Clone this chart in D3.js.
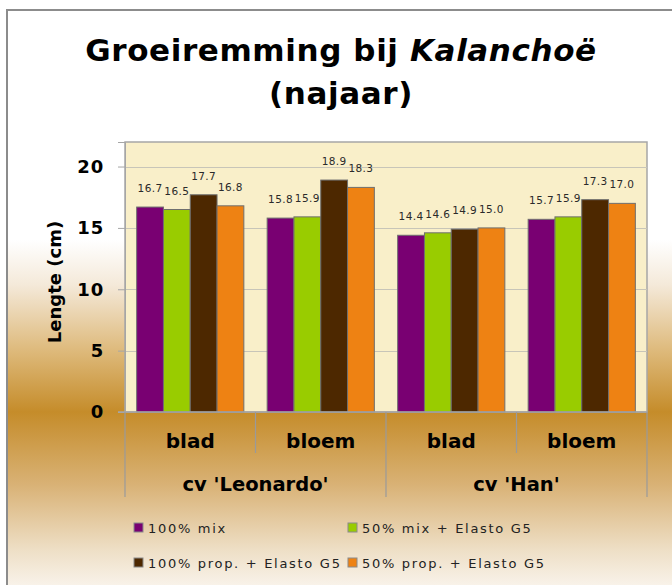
<!DOCTYPE html>
<html>
<head>
<meta charset="utf-8">
<script src="https://cdn.jsdelivr.net/npm/d3@7"></script>
<style>
  html, body { margin: 0; padding: 0; background: #ffffff; }
  svg { display: block; }
  text { font-family: "DejaVu Sans", Verdana, sans-serif; }
</style>
</head>
<body>
<script>
// ---- data ----
const cultivars = ["cv 'Leonardo'", "cv 'Han'"];
const organs = ["blad", "bloem"];
const seriesNames = ["100% mix", "50% mix + Elasto G5", "100% prop. + Elasto G5", "50% prop. + Elasto G5"];
const seriesColors = ["#790072", "#99CC00", "#4D2800", "#EE8213"];
// values per category (Leonardo blad, Leonardo bloem, Han blad, Han bloem)
const s100mix      = [16.7, 15.8, 14.4, 15.7];
const s50mixElasto = [16.5, 15.9, 14.6, 15.9];
const s100prop     = [17.7, 18.9, 14.9, 17.3];
const s50prop      = [16.8, 18.3, 15.0, 17.0];
const yTicks = [0, 5, 10, 15, 20];

const seriesValues = [s100mix, s50mixElasto, s100prop, s50prop];
const categories = [];
cultivars.forEach(c => organs.forEach(o => categories.push({cultivar: c, organ: o, key: c + "|" + o})));

const W = 672, H = 585;
const svg = d3.select("body").append("svg").attr("width", W).attr("height", H);

// background gradient
const defs = svg.append("defs");
const grad = defs.append("linearGradient").attr("id", "bg")
  .attr("gradientUnits", "userSpaceOnUse").attr("x1", 0).attr("y1", 0).attr("x2", 0).attr("y2", 600);
[[0, "#ffffff"], [240, "#ffffff"], [285, "#F4E9D9"], [350, "#DEBA7C"], [412, "#C58C2A"],
 [485, "#D9B276"], [550, "#EEDFC6"], [590, "#FAF5EE"]].forEach(([y, c]) => {
  grad.append("stop").attr("offset", y / 600).attr("stop-color", c);
});
svg.append("rect").attr("x", 7).attr("y", 10).attr("width", 720).attr("height", 640)
  .attr("fill", "url(#bg)").attr("stroke", "#8C8C8C").attr("stroke-width", 2);

// title
const title = svg.append("text").attr("x", 341).attr("y", 61).attr("text-anchor", "middle")
  .attr("font-size", 31).attr("font-weight", "bold").attr("letter-spacing", 0.6).attr("fill", "#000");
title.append("tspan").text("Groeiremming bij ");
title.append("tspan").attr("font-style", "italic").text("Kalanchoë");
svg.append("text").attr("x", 341).attr("y", 104).attr("text-anchor", "middle")
  .attr("font-size", 31).attr("font-weight", "bold").attr("letter-spacing", 0.6).attr("fill", "#000")
  .text("(najaar)");

// plot area
const plot = {left: 125, right: 647, top: 142, bottom: 412};
const y = d3.scaleLinear().domain([0, 22]).range([plot.bottom, plot.top]);
const x0 = d3.scaleBand().domain(categories.map(d => d.key)).range([plot.left, plot.right]).padding(0);
const x1 = d3.scaleBand().domain(d3.range(seriesNames.length)).range([0, x0.bandwidth()])
  .paddingInner(0).paddingOuter(0.435);

svg.append("rect").attr("x", plot.left).attr("y", plot.top)
  .attr("width", plot.right - plot.left).attr("height", plot.bottom - plot.top)
  .attr("fill", "#F9EFC9").attr("stroke", "#A6A6A6").attr("stroke-width", 1.5);

// gridlines
svg.append("g").selectAll("line").data(yTicks.filter(t => t > 0)).join("line")
  .attr("x1", plot.left).attr("x2", plot.right)
  .attr("y1", d => Math.round(y(d)) + 0.5).attr("y2", d => Math.round(y(d)) + 0.5)
  .attr("stroke", "#C8C5B8").attr("stroke-width", 1.2);

// y axis
const yAxis = d3.axisLeft(y).tickValues(yTicks).tickSize(7).tickPadding(14).tickFormat(d3.format("d"));
const yg = svg.append("g").attr("transform", `translate(${plot.left},0)`).call(yAxis);
yg.select(".domain").attr("stroke", "#A6A6A6");
yg.selectAll(".tick line").attr("stroke", "#A6A6A6");
yg.selectAll(".tick text").attr("font-size", 18).attr("font-weight", "bold")
  .attr("font-family", "DejaVu Sans").attr("fill", "#000").attr("letter-spacing", 0.8);

svg.append("text").attr("transform", "translate(61,282) rotate(-90)").attr("text-anchor", "middle")
  .attr("font-size", 18).attr("font-weight", "bold").attr("fill", "#000").text("Lengte (cm)");

// bars
const barG = svg.append("g");
categories.forEach((cat, ci) => {
  const g = barG.append("g").attr("transform", `translate(${x0(cat.key)},0)`);
  g.selectAll("rect").data(seriesValues.map((s, si) => ({si, v: s[ci]}))).join("rect")
    .attr("x", d => x1(d.si)).attr("width", x1.bandwidth())
    .attr("y", d => y(d.v)).attr("height", d => y(0) - y(d.v))
    .attr("fill", d => seriesColors[d.si]).attr("stroke", "#6F6F6F").attr("stroke-width", 1);
  g.selectAll("text").data(seriesValues.map((s, si) => ({si, v: s[ci]}))).join("text")
    .attr("x", d => x1(d.si) + x1.bandwidth() / 2).attr("y", d => y(d.v) - 15)
    .attr("text-anchor", "middle").attr("font-size", 10.5).attr("fill", "#2a2a2a")
    .attr("letter-spacing", 0.4)
    .text(d => d3.format(".1f")(d.v));
});

// baseline
svg.append("line").attr("x1", plot.left - 7).attr("x2", plot.right)
  .attr("y1", plot.bottom).attr("y2", plot.bottom).attr("stroke", "#A6A6A6").attr("stroke-width", 1.5);

// category axis (two levels)
const sepColor = "#9A9A9A";
const cultBand = d3.scaleBand().domain(cultivars).range([plot.left, plot.right]).padding(0);
// inner separators
categories.forEach(cat => {
  if (cat.organ === organs[1]) {
    svg.append("line").attr("x1", x0(cat.key)).attr("x2", x0(cat.key))
      .attr("y1", plot.bottom).attr("y2", 453).attr("stroke", sepColor).attr("stroke-width", 1.2);
  }
});
// outer separators
cultivars.map(c => cultBand(c)).concat([plot.right]).forEach(xv => {
  svg.append("line").attr("x1", xv).attr("x2", xv)
    .attr("y1", plot.bottom).attr("y2", 497).attr("stroke", sepColor).attr("stroke-width", 1.2);
});
svg.append("g").selectAll("text").data(categories).join("text")
  .attr("x", d => x0(d.key) + x0.bandwidth() / 2).attr("y", 448)
  .attr("text-anchor", "middle").attr("font-size", 20).attr("font-weight", "bold").attr("fill", "#000")
  .text(d => d.organ);
svg.append("g").selectAll("text").data(cultivars).join("text")
  .attr("x", d => cultBand(d) + cultBand.bandwidth() / 2).attr("y", 491)
  .attr("text-anchor", "middle").attr("font-size", 19.5).attr("font-weight", "bold").attr("fill", "#000")
  .text(d => d);

// legend
const legendPos = [[134, 523], [348, 523], [134, 558], [348, 558]];
seriesNames.forEach((name, i) => {
  const [lx, ly] = legendPos[i];
  svg.append("rect").attr("x", lx).attr("y", ly).attr("width", 9).attr("height", 9)
    .attr("fill", seriesColors[i]).attr("stroke", "#8a8a8a").attr("stroke-width", 1);
  svg.append("text").attr("x", lx + 14).attr("y", ly + 10)
    .attr("font-size", 13).attr("fill", "#222").attr("letter-spacing", 1.7).text(name);
});
</script>
</body>
</html>
